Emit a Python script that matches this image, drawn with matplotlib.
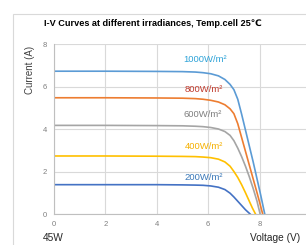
import matplotlib
matplotlib.use("Agg")
import matplotlib.pyplot as plt
from matplotlib.patches import Rectangle

plt.rcParams['font.family'] = ['Liberation Sans', 'DejaVu Sans']

# curvas I-V (voltaje, corriente)
v1000 = [0, 2, 4, 5, 5.5, 5.8, 6.1, 6.4, 6.65, 6.85, 7.0, 7.15, 7.3, 7.45, 7.6, 7.75, 7.9, 8.05, 8.2]
i1000 = [6.72, 6.72, 6.71, 6.70, 6.68, 6.65, 6.6, 6.5, 6.33, 6.1, 5.85, 5.4, 4.7, 3.95, 3.2, 2.45, 1.65, 0.85, 0]
v800 = [0, 2, 4, 5, 5.5, 5.8, 6.1, 6.4, 6.65, 6.85, 7.0, 7.15, 7.3, 7.45, 7.6, 7.75, 7.9, 8.0, 8.12]
i800 = [5.47, 5.47, 5.46, 5.45, 5.43, 5.40, 5.35, 5.27, 5.14, 4.95, 4.72, 4.25, 3.6, 2.95, 2.3, 1.65, 1.0, 0.55, 0]
v600 = [0, 2, 4, 5, 5.5, 5.8, 6.1, 6.4, 6.65, 6.85, 7.0, 7.15, 7.3, 7.45, 7.6, 7.75, 7.9, 8.02]
i600 = [4.17, 4.17, 4.16, 4.15, 4.13, 4.11, 4.07, 4.0, 3.88, 3.7, 3.45, 3.1, 2.7, 2.25, 1.75, 1.2, 0.6, 0]
v400 = [0, 2, 4, 5, 5.5, 5.8, 6.1, 6.4, 6.65, 6.85, 7.0, 7.15, 7.3, 7.45, 7.6, 7.72, 7.84]
i400 = [2.73, 2.73, 2.72, 2.71, 2.70, 2.68, 2.65, 2.58, 2.45, 2.25, 2.0, 1.72, 1.38, 1.0, 0.6, 0.28, 0]
v200 = [0, 2, 4, 5, 5.5, 5.8, 6.1, 6.4, 6.65, 6.85, 7.0, 7.15, 7.3, 7.45, 7.63]
i200 = [1.38, 1.38, 1.38, 1.37, 1.36, 1.35, 1.32, 1.26, 1.15, 0.98, 0.8, 0.6, 0.4, 0.2, 0]

etiquetas = ["1000W/m²", "800W/m²", "600W/m²", "400W/m²", "200W/m²"]
pos_x = [5.88, 5.82, 5.8, 5.85, 5.82]
pos_y = [7.29, 5.88, 4.66, 3.2, 1.74]

colores = ["#5B9BD5", "#ED7D31", "#A5A5A5", "#FFC000", "#4472C4"]
col_txt = ["#2EA3D8", "#C0392B", "#7F7F7F", "#F5B000", "#3A78B8"]

xticks = [0, 2, 4, 6, 8, 10]
xlabels = ["0", "2", "4", "6", "8", ""]
yticks = [0, 2, 4, 6, 8]

fig = plt.figure(figsize=(3.06, 2.45), dpi=100)
fig.patch.set_facecolor("white")
# marco del grafico
fig.patches.append(Rectangle((13/306, -0.1), 1.2, (245-14)/245 + 0.1, transform=fig.transFigure,
                             fill=False, edgecolor="#D9D9D9", linewidth=0.8))

ax = fig.add_axes([54/306, 31/245, 257/306, 170/245])
curvas = [(v1000, i1000), (v800, i800), (v600, i600), (v400, i400), (v200, i200)]
for k in range(len(curvas)):
    ax.plot(curvas[k][0], curvas[k][1], color=colores[k], linewidth=1.2)
    ax.text(pos_x[k], pos_y[k], etiquetas[k], color=col_txt[k], fontsize=6.8,
            ha="center", va="center")

ax.set_xlim(0, 10)
ax.set_ylim(0, 8)
ax.set_xticks(xticks)
ax.set_xticklabels(xlabels)
ax.set_yticks(yticks)
ax.grid(True, color="#D9D9D9", linewidth=0.8)
ax.set_axisbelow(True)
for s in ["top", "right"]:
    ax.spines[s].set_visible(False)
for s in ["left", "bottom"]:
    ax.spines[s].set_color("#BFBFBF")
    ax.spines[s].set_linewidth(0.8)
ax.tick_params(length=0, labelsize=5.5, labelcolor="#7F7F7F", pad=5)

fig.text(44/306, 1 - 24/245, "I-V Curves at different irradiances, Temp.cell 25℃",
         fontsize=6.6, fontweight="bold", ha="left", va="center")
fig.text(30/306, 1 - 70/245, "Current (A)", rotation=90, fontsize=7,
         ha="center", va="center", color="#404040")
fig.text(250/306, 1 - 238/245, "Voltage (V)", fontsize=7.3, ha="left", va="center", color="#262626")
fig.text(43/306, 1 - 238/245, "45W", fontsize=7.3, ha="left", va="center", color="#262626")

fig.savefig("out.png", dpi=100)
